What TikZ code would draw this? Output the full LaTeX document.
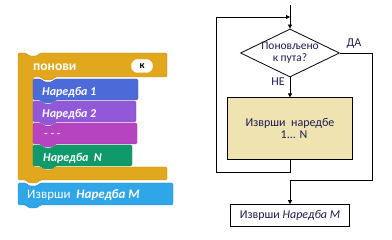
\documentclass[tikz,border=0pt]{standalone}
\usepackage{fontspec}
\setmainfont{Carlito}
\usetikzlibrary{arrows.meta,positioning,shapes.geometric}
\definecolor{ctrlorange}{RGB}{225,168,30}
\definecolor{blkblue}{RGB}{76,106,216}
\definecolor{blkpurple}{RGB}{145,89,216}
\definecolor{blkmagenta}{RGB}{182,68,192}
\definecolor{blkgreen}{RGB}{16,154,107}
\definecolor{blksky}{RGB}{46,166,232}
\definecolor{bodybeige}{RGB}{239,227,177}
\definecolor{flowink}{RGB}{30,28,80}
\tikzset{
  flowbox/.style={
    draw,
    line width=0.8pt,
    align=center,
    inner sep=0pt,
    text=flowink,
    font=\fontsize{12}{11}\selectfont
  },
  decision/.style={
    draw,
    line width=0.8pt,
    diamond,
    inner sep=0pt,
    minimum width=99pt,
    minimum height=48pt
  },
  flowarrow/.style={-{Triangle[length=4pt,width=4pt]},line width=0.8pt},
  blktext/.style={anchor=west,text=white,inner sep=0pt,
    font=\fontsize{12}{13}\selectfont\bfseries\itshape}
}
% one stack block with a notch on top and a tab below
\newcommand\cmdblock[5]{%
  \fill[#5,draw=#5!85!black,line width=0.4pt,rounded corners=1.5pt]
    (#1,#2) -- ++(8,0) -- ++(3,3) -- ++(8,0) -- ++(3,-3) -- (#1+#3,#2)
    -- (#1+#3,#2+#4) -- (#1+22,#2+#4) -- ++(-3,3) -- ++(-8,0) -- ++(-3,-3)
    -- (#1,#2+#4) -- cycle;}

\begin{document}
\begin{tikzpicture}[x=1pt,y=-1pt]
  \useasboundingbox (0,0) rectangle (392,240);

  % repeat block with its body
  \fill[ctrlorange,draw=ctrlorange!85!black,line width=0.4pt,rounded corners=1.5pt]
    (18,53) -- (26,53) -- (29,56) -- (37,56) -- (40,53) -- (167,53)
    -- (167,77) -- (55,77) -- (52,80) -- (44,80) -- (41,77) -- (33,77)
    -- (33,167) -- (41,167) -- (44,170) -- (52,170) -- (55,167) -- (167,167)
    -- (167,180) -- (40,180) -- (37,183) -- (29,183) -- (26,180) -- (18,180) -- cycle;
  \node[blktext,font=\fontsize{13.5}{14}\selectfont\bfseries] (rep) at (33,67) {понови};
  \node[draw=white,fill=white,rounded corners=6pt,minimum width=21pt,minimum height=13pt,
    inner sep=0pt,font=\fontsize{10}{10}\selectfont\bfseries] (cnt) at (142,66) {к};

  \cmdblock{33}{79}{105}{21}{blkblue}
  \cmdblock{33}{101}{103}{21}{blkpurple}
  \cmdblock{33}{123}{104}{21}{blkmagenta}
  \cmdblock{33}{145}{99}{21}{blkgreen}
  \cmdblock{18}{183}{155}{22}{blksky}
  \node[blktext] (s1) at (42,92) {Наредба 1};
  \node[blktext] (s2) at (42,114) {Наредба 2};
  \node[blktext,font=\fontsize{12}{13}\selectfont] (s3) at (44,136) {- - -};
  \node[blktext] (sn) at (43,158) {Наредба~ N};
  \node[blktext,font=\fontsize{13}{14}\selectfont] (sm) at (27,195)
    {Изврши~ \textbf{\textit{Наредба М}}};

  % flowchart of the loop
  \coordinate (top) at (290,5);
  \node[decision] (cond) at (290,53) {};
  \node[flowbox,draw=none,font=\fontsize{11.5}{11}\selectfont] (condtext) at (cond.center)
    {Поновљено\\[1pt]к пута?};
  \node[flowbox,fill=bodybeige,below=20pt of cond,minimum width=125pt,minimum height=62pt]
    (body) {Изврши~ наредбе\\[1pt]\hspace*{8pt}1... N};
  \node[flowbox,below=44pt of body,minimum width=119pt,minimum height=22pt]
    (done) {Изврши \textit{Наредба М}};
  \coordinate (back1) at (290,172);
  \coordinate (back2) at (216,172);
  \coordinate (back3) at (216,17);
  \coordinate (join) at (290,17);
  \coordinate (yes1) at (372,53);
  \coordinate (yes2) at (372,180);
  \coordinate (yes3) at (290,180);

  \draw[flowarrow] (top) -- (cond.north);
  \draw[flowarrow] (cond.south) -- (body.north);
  \draw[flowarrow] (body.south) -- (back1) -- (back2) -- (back3) -- (join);
  \draw[flowarrow] (cond.east) -- (yes1) -- (yes2) -- (yes3) -- (done.north);
  \node[text=flowink,font=\fontsize{12}{12}\selectfont] (yes) at (354,44) {ДА};
  \node[text=flowink,font=\fontsize{12}{12}\selectfont] (no) at (278,82) {НЕ};
\end{tikzpicture}
\end{document}
